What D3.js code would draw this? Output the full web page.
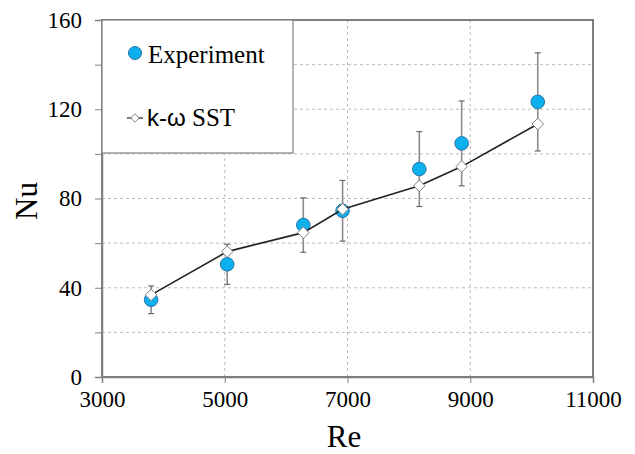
<!DOCTYPE html>
<html>
<head>
<meta charset="utf-8">
<script src="https://cdn.jsdelivr.net/npm/d3@7"></script>
<style>
  body { margin: 0; background: #fff; }
  text { font-family: "Liberation Serif", "Times New Roman", serif; fill: #000; }
</style>
</head>
<body>
<div id="visual"></div>
<script>
// Reynolds numbers of the test cases
const re = [3800, 5040, 6280, 6920, 8170, 8860, 10100];
// measured Nusselt number and its error (half range)
const nuExp = [34.6, 50.5, 68.1, 74.5, 93.2, 104.7, 123.3];
const nuErr = [6.2, 9.0, 12.2, 13.6, 16.8, 19.0, 22.0];
// k-w SST simulation
const nuSST = [36.8, 56.2, 64.7, 75.2, 85.7, 94.3, 113.4];

const xTicks = [3000, 5000, 7000, 9000, 11000];
const yTicks = [0, 20, 40, 60, 80, 100, 120, 140, 160];
const yLabels = [0, 40, 80, 120, 160];

const serif = "'Liberation Serif', 'Times New Roman', serif";
const margin = {top: 20, right: 42, bottom: 77, left: 102};
const W = 635, H = 454;
const width = W - margin.left - margin.right;
const height = H - margin.top - margin.bottom;

const svg = d3.select("#visual")
  .append("svg")
    .attr("width", W)
    .attr("height", H);
const g = svg.append("g")
    .attr("transform", "translate(" + margin.left + "," + margin.top + ")");

const x = d3.scaleLinear().domain([3000, 11000]).range([0, width]);
const y = d3.scaleLinear().domain([0, 160]).range([height, 0]);

// grid
g.selectAll(".hgrid")
  .data(yTicks.filter(d => d > 0 && d < 160))
  .enter().append("line")
    .attr("x1", 0).attr("x2", width)
    .attr("y1", d => y(d)).attr("y2", d => y(d))
    .attr("stroke", "#bdbdbd").attr("stroke-width", 1)
    .attr("stroke-dasharray", "3,3");
g.selectAll(".vgrid")
  .data(xTicks.filter(d => d > 3000 && d < 11000))
  .enter().append("line")
    .attr("x1", d => x(d)).attr("x2", d => x(d))
    .attr("y1", 0).attr("y2", height)
    .attr("stroke", "#bdbdbd").attr("stroke-width", 1)
    .attr("stroke-dasharray", "3,3");

// frame
g.append("rect")
  .attr("width", width).attr("height", height)
  .attr("fill", "none").attr("stroke", "#555").attr("stroke-width", 1.5);

// axes
const yAxis = g.append("g")
  .call(d3.axisLeft(y).tickValues(yTicks).tickSize(7).tickPadding(13)
    .tickFormat(d => yLabels.includes(d) ? d : ""));
const xAxis = g.append("g")
  .attr("transform", "translate(0," + height + ")")
  .call(d3.axisBottom(x).tickValues(xTicks).tickSize(6).tickPadding(8)
    .tickFormat(d3.format("d")));
[xAxis, yAxis].forEach(a => {
  a.attr("font-family", serif).attr("font-size", 23);
  a.select(".domain").attr("stroke", "#808080").attr("stroke-width", 1.5);
  a.selectAll(".tick line").attr("stroke", "#808080").attr("stroke-width", 1);
  a.selectAll(".tick text")
    .attr("font-family", serif)
    .style("font-family", serif)
    .style("font-size", "23px").attr("fill", "#000");
});

// error bars
const bars = g.selectAll(".err")
  .data(re.map((r, i) => ({r: r, v: nuExp[i], e: nuErr[i]})))
  .enter().append("g");
bars.append("line")
  .attr("x1", d => x(d.r)).attr("x2", d => x(d.r))
  .attr("y1", d => y(d.v + d.e)).attr("y2", d => y(d.v - d.e))
  .attr("stroke", "#8a8a8a").attr("stroke-width", 1.6);
bars.selectAll(".cap")
  .data(d => [{r: d.r, v: d.v + d.e}, {r: d.r, v: d.v - d.e}])
  .enter().append("line")
  .attr("x1", d => x(d.r) - 3).attr("x2", d => x(d.r) + 3)
  .attr("y1", d => y(d.v)).attr("y2", d => y(d.v))
  .attr("stroke", "#6a6a6a").attr("stroke-width", 1.2);

// experiment
g.selectAll(".exp")
  .data(re.map((r, i) => [r, nuExp[i]]))
  .enter().append("circle")
  .attr("cx", d => x(d[0])).attr("cy", d => y(d[1]))
  .attr("r", 6.8)
  .attr("fill", "#0cb0ec").attr("stroke", "#2a72a8").attr("stroke-width", 1);

// SST line + diamonds
const sst = re.map((r, i) => [r, nuSST[i]]);
g.append("path")
  .datum(sst)
  .attr("fill", "none").attr("stroke", "#222").attr("stroke-width", 1.6)
  .attr("d", d3.line().x(d => x(d[0])).y(d => y(d[1])));
const diamond = d3.symbol().type(d3.symbolDiamond2).size(85);
g.selectAll(".sst")
  .data(sst)
  .enter().append("path")
  .attr("transform", d => "translate(" + x(d[0]) + "," + y(d[1]) + ")")
  .attr("d", diamond)
  .attr("fill", "#fff").attr("stroke", "#808080").attr("stroke-width", 1);

// legend
const lg = g.append("g");
lg.append("rect")
  .attr("x", 0).attr("y", 0).attr("width", 191).attr("height", 133)
  .attr("fill", "#fff").attr("stroke", "#808080").attr("stroke-width", 1.2);
lg.append("circle")
  .attr("cx", 33).attr("cy", 33).attr("r", 6.5)
  .attr("fill", "#0cb0ec").attr("stroke", "#2a72a8").attr("stroke-width", 1);
lg.append("text")
  .attr("x", 46).attr("y", 43)
  .style("font-size", "25px")
  .text("Experiment");
lg.append("line")
  .attr("x1", 25).attr("x2", 41).attr("y1", 98).attr("y2", 98)
  .attr("stroke", "#222").attr("stroke-width", 1.2);
lg.append("path")
  .attr("transform", "translate(33,98)")
  .attr("d", d3.symbol().type(d3.symbolDiamond2).size(45))
  .attr("fill", "#fff").attr("stroke", "#808080").attr("stroke-width", 1);
const t2 = lg.append("text")
  .attr("x", 45).attr("y", 106)
  .style("font-size", "25px");
t2.append("tspan")
  .style("font-family", "'Liberation Sans', Arial, sans-serif")
  .style("font-size", "24px")
  .text("k-\u03c9");
t2.append("tspan")
  .style("font-family", serif)
  .text(" SST");

// axis titles
svg.append("text")
  .attr("x", 344).attr("y", 447)
  .attr("text-anchor", "middle")
  .style("font-size", "31px")
  .text("Re");
svg.append("text")
  .attr("transform", "translate(37,201) rotate(-90)")
  .attr("text-anchor", "middle")
  .style("font-size", "31px")
  .text("Nu");
</script>
</body>
</html>
